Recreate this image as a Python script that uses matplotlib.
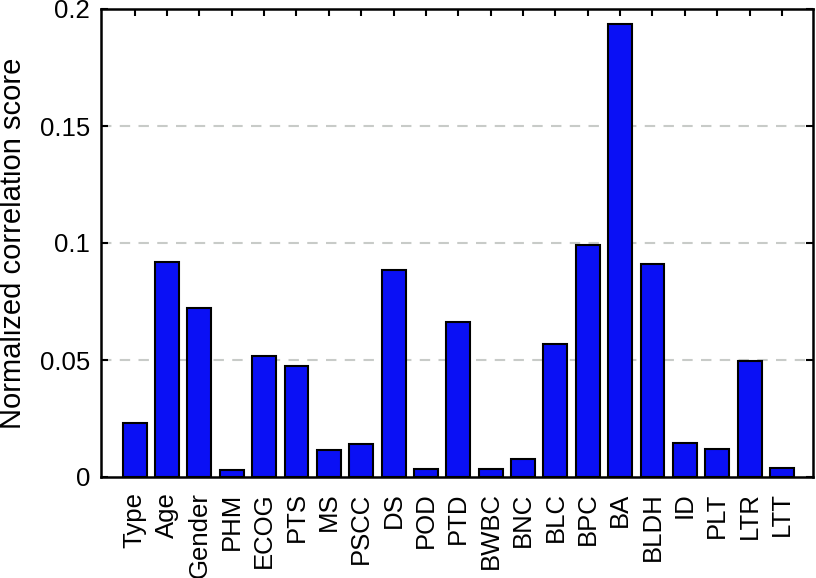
import numpy as np
import matplotlib.pyplot as plt

plt.rcParams['font.family'] = ['Liberation Sans', 'DejaVu Sans']

# feature names and their normalized correlation scores
features = ["Type", "Age", "Gender", "PHM", "ECOG", "PTS", "MS", "PSCC", "DS", "POD",
            "PTD", "BWBC", "BNC", "BLC", "BPC", "BA", "BLDH", "ID", "PLT", "LTR", "LTT"]
scores = [0.0232, 0.0919, 0.0722, 0.0028, 0.0517, 0.0476, 0.0117, 0.0143, 0.0885, 0.0036,
          0.0663, 0.0033, 0.0077, 0.0570, 0.0990, 0.1935, 0.0910, 0.0145, 0.0118, 0.0497, 0.0037]
yticks = [0, 0.05, 0.1, 0.15, 0.2]
yticklabels = ["0", "0.05", "0.1", "0.15", "0.2"]

fig = plt.figure(figsize=(8.16, 5.78), dpi=100)
ax = fig.add_axes([101/816, 1-477/578, 712/816, 468/578])

x = np.arange(len(features))
ax.bar(x, scores, width=0.74, color="#0a10f5", edgecolor="black", linewidth=1.5, zorder=3)

# dashed grid lines only at inner ticks
for yv in [0.05, 0.1, 0.15]:
    ax.axhline(yv, color="#c8cbc8", linestyle=(0, (5, 4)), linewidth=1.5, zorder=1)

ax.set_xlim(-1.04, 20.96)
ax.set_ylim(0, 0.2)
ax.set_xticks(x)
ax.set_xticklabels(features, rotation=90, fontsize=18.5)
ax.set_yticks(yticks)
ax.set_yticklabels(yticklabels, fontsize=18.5)
ax.set_ylabel("Normalized correlation score", fontsize=21, labelpad=9)

ax.tick_params(direction="in", length=5, width=1.5, top=True, right=True)
ax.tick_params(axis="y", pad=8)
ax.tick_params(axis="x", pad=11)
for s in ax.spines.values():
    s.set_linewidth(1.8)

plt.savefig("out.png", dpi=100)
